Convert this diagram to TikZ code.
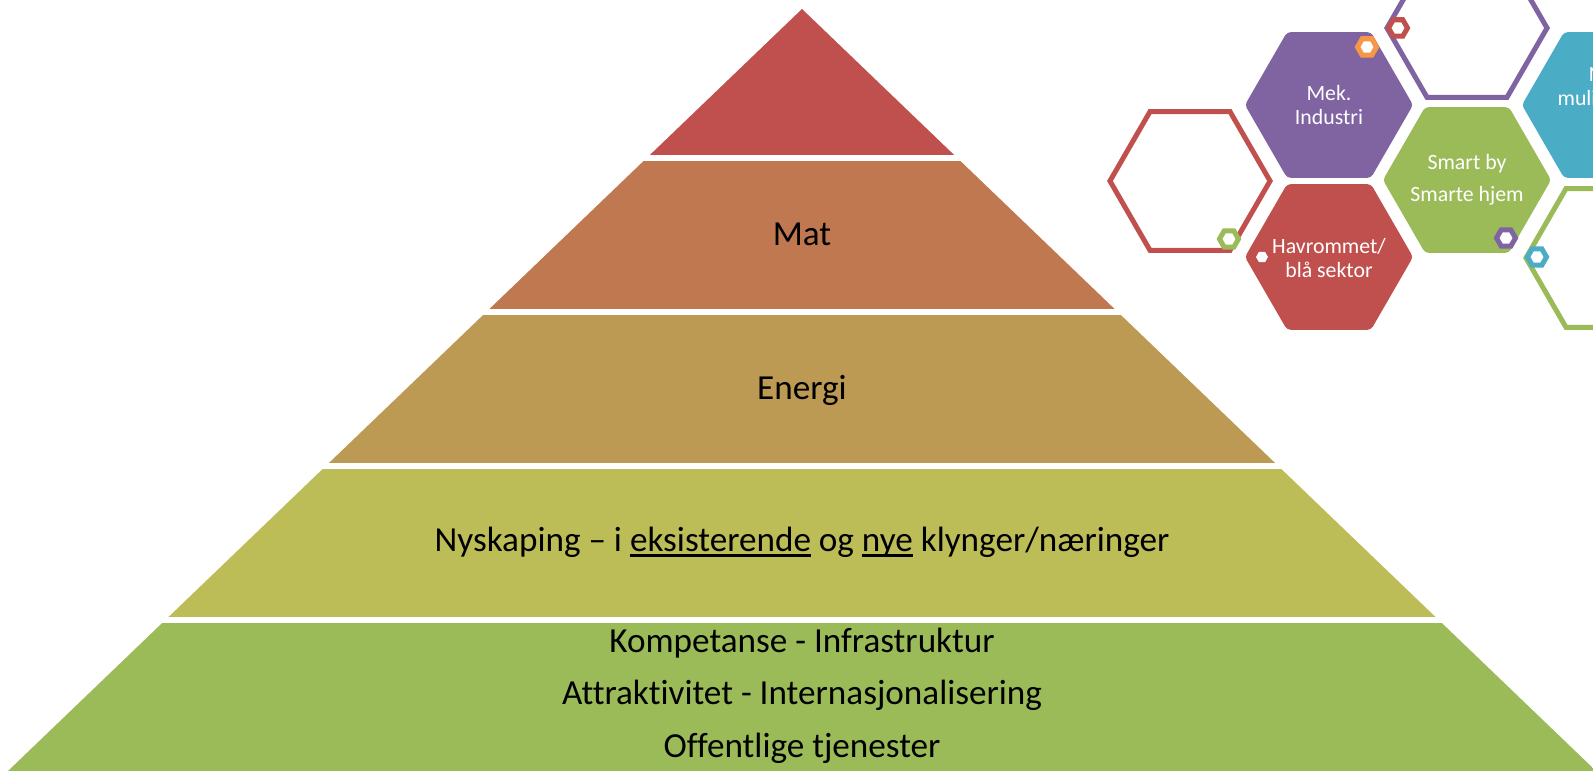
\documentclass[tikz,border=0pt]{standalone}
\usepackage{fontspec}
\setmainfont{Carlito}[Ligatures={TeX,NoCommon}]
\usepackage{tikz}
\usetikzlibrary{shapes.geometric}
\definecolor{rodtopp}{HTML}{C0504D}
\definecolor{matbrun}{HTML}{BF7850}
\definecolor{energigul}{HTML}{BD9A53}
\definecolor{oliven}{HTML}{BDBD58}
\definecolor{grunngronn}{HTML}{9BBB59}
\definecolor{lilla}{HTML}{8064A2}
\definecolor{turkis}{HTML}{4BACC6}
\definecolor{oransje}{HTML}{F79646}
\newcommand{\understrek}[1]{\setbox0\hbox{#1}\rlap{\rule[-1.5pt]{\wd0}{0.8pt}}\box0\relax}
\tikzstyle{lag}=[anchor=base, inner sep=0pt, font=\fontsize{10}{12}\selectfont]
\tikzstyle{hextekst}=[inner sep=0pt, text=white, align=center, font=\fontsize{6.2}{6.8}\selectfont]
\tikzstyle{hexfylt}=[regular polygon, regular polygon sides=6, inner sep=0pt, minimum size=1.68cm, rounded corners=1pt]
\tikzstyle{hexring}=[regular polygon, regular polygon sides=6, inner sep=0pt, minimum size=1.6cm, line width=0.05cm, draw, fill=white]
\tikzstyle{mutter}=[regular polygon, regular polygon sides=6, inner sep=0pt, minimum size=0.19cm, line width=0.05cm, draw, fill=white]

\begin{document}
\begin{tikzpicture}[x=0.01cm, y=-0.01cm]
	\useasboundingbox (0,0) rectangle (1593,771);
	\clip (0,0) rectangle (1593,771);
	% pyramiden
	\begin{scope}
		\clip (802,9) -- (8,771) -- (1596,771) -- cycle;
		\foreach \topp/\bunn/\farge in {9/155/rodtopp, 161/309/matbrun, 315/463/energigul, 469/617/oliven, 623/771/grunngronn}
			\fill[\farge] (0,\topp) rectangle (1600,\bunn);
	\end{scope}
	\node[lag] (mat) at (802,246) {Mat};
	\node[lag] (energi) at (802,400) {Energi};
	\node[lag] (nyskaping) at (802,552) {Nyskaping -- i \understrek{eksisterende} og \understrek{nye} klynger/næringer};
	\node[lag] (kompetanse) at (802,653) {Kompetanse - Infrastruktur};
	\node[lag] (attraktivitet) at (802,705) {Attraktivitet - Internasjonalisering};
	\node[lag] (offentlig) at (802,758) {Offentlige tjenester};
	% sekskanter
	\node[hexring, draw=lilla] (ringtopp) at (1467,28) {};
	\node[hexring, draw=rodtopp] (ringvenstre) at (1190,181) {};
	\node[hexring, draw=grunngronn] (ringhoyre) at (1606,258) {};
	\node[hexfylt, fill=lilla] (mek) at (1329,105) {};
	\node[hexfylt, fill=rodtopp] (havrom) at (1329,257) {};
	\node[hexfylt, fill=grunngronn] (smart) at (1467,180) {};
	\node[hexfylt, fill=turkis] (nye) at (1606,105) {};
	\node[hextekst] (mektekst) at (mek) {Mek.\\Industri};
	\node[hextekst] (havromtekst) at (1329,258) {Havrommet/\\blå sektor};
	\node[hextekst] (smarttekst) at (smart) {Smart by\\[0.08cm]Smarte hjem};
	\node[hextekst] (nyetekst) at (1606,88) {Nye\\muligheter};
	\node[mutter, draw=rodtopp] (m1) at (1398,28) {};
	\node[mutter, draw=oransje] (m2) at (1367,47) {};
	\node[mutter, draw=grunngronn] (m3) at (1229,239) {};
	\node[mutter, draw=lilla] (m4) at (1506,238) {};
	\node[mutter, draw=turkis] (m5) at (1537,257) {};
	\node[mutter, draw=none, minimum size=0.12cm] (m6) at (1262,257) {};
\end{tikzpicture}
\end{document}
